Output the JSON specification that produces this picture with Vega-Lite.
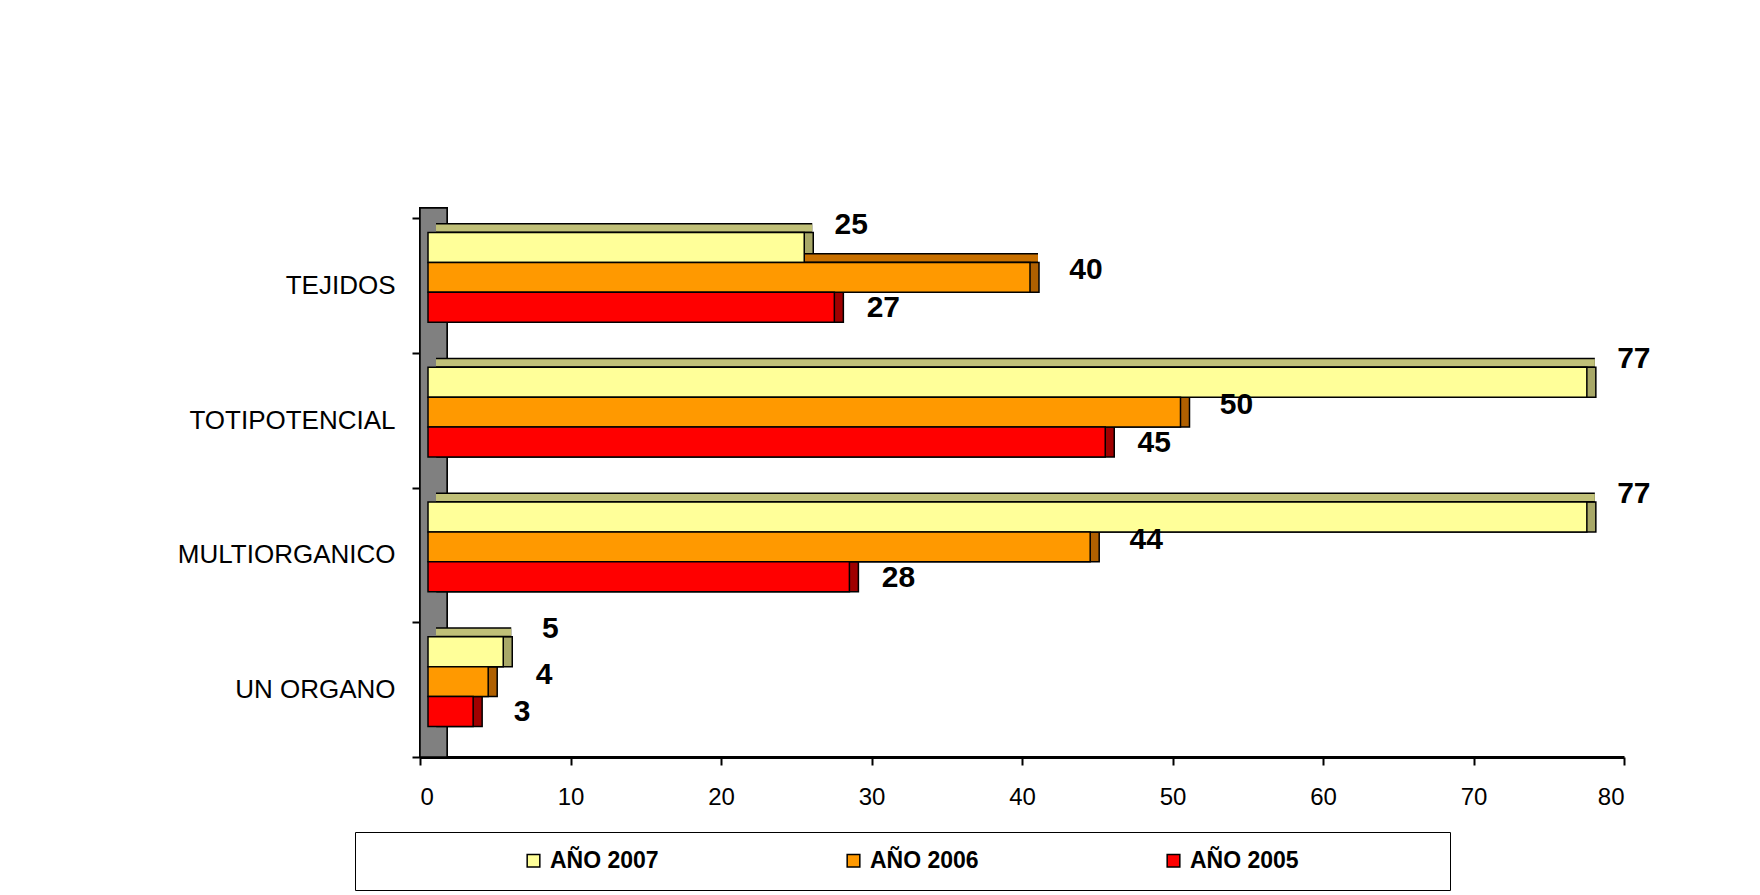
{
  "$schema": "https://vega.github.io/schema/vega-lite/v6.json",
  "autosize": "none",
  "padding": {"left": 420, "top": 218, "right": 136, "bottom": 138},
  "width": 1204,
  "height": 539,
  "background": "white",
  "config": {"view": {"stroke": null}, "font": "Liberation Sans"},
  "data": {
    "values": [
      {"cat": "TEJIDOS", "year": "AÑO 2007", "v": 25},
      {"cat": "TEJIDOS", "year": "AÑO 2006", "v": 40},
      {"cat": "TEJIDOS", "year": "AÑO 2005", "v": 27},
      {"cat": "TOTIPOTENCIAL", "year": "AÑO 2007", "v": 77},
      {"cat": "TOTIPOTENCIAL", "year": "AÑO 2006", "v": 50},
      {"cat": "TOTIPOTENCIAL", "year": "AÑO 2005", "v": 45},
      {"cat": "MULTIORGANICO", "year": "AÑO 2007", "v": 77},
      {"cat": "MULTIORGANICO", "year": "AÑO 2006", "v": 44},
      {"cat": "MULTIORGANICO", "year": "AÑO 2005", "v": 28},
      {"cat": "UN ORGANO", "year": "AÑO 2007", "v": 5},
      {"cat": "UN ORGANO", "year": "AÑO 2006", "v": 4},
      {"cat": "UN ORGANO", "year": "AÑO 2005", "v": 3}
    ]
  },
  "encoding": {
    "y": {"field": "cat", "type": "nominal", "sort": ["TEJIDOS", "TOTIPOTENCIAL", "MULTIORGANICO", "UN ORGANO"], "scale": {"paddingInner": 0, "paddingOuter": 0},
      "axis": {"title": null, "labelFontSize": 26, "labelColor": "black", "labelLimit": 400, "labelPadding": 17, "tickSize": 8, "tickColor": "black", "tickWidth": 2, "tickBand": "extent", "domainColor": "black", "domainWidth": 2, "grid": false}},
    "yOffset": {"field": "year", "type": "nominal", "sort": ["AÑO 2007", "AÑO 2006", "AÑO 2005"], "scale": {"domain": ["AÑO 2007", "AÑO 2006", "AÑO 2005"], "paddingInner": 0, "paddingOuter": 0.756, "align": 0.323}},
    "x": {"field": "v", "type": "quantitative", "scale": {"domain": [0, 80], "nice": false},
      "axis": {"title": null, "values": [0, 10, 20, 30, 40, 50, 60, 70, 80], "labelFontSize": 24, "labelColor": "black", "labelPadding": 20, "tickSize": 8, "tickColor": "black", "tickWidth": 2, "domainColor": "black", "domainWidth": 3, "grid": false}}
  },
  "layer": [
    {
      "mark": {"type": "rect", "fill": "#808080", "stroke": "black", "strokeWidth": 1.5, "yOffset": -10},
      "encoding": {
        "y": null, "yOffset": null,
        "x": {"datum": 0, "type": "quantitative"},
        "x2": {"datum": 1.8}
      }
    },
    {
      "transform": [{"filter": "datum.year == 'AÑO 2007'"}],
      "mark": {"type": "bar", "xOffset": 17, "x2Offset": 17, "fill": "#A8A868", "stroke": "black", "strokeWidth": 1.5}
    },
    {
      "transform": [{"filter": "datum.year == 'AÑO 2006'"}],
      "mark": {"type": "bar", "xOffset": 17, "x2Offset": 17, "fill": "#B06000", "stroke": "black", "strokeWidth": 1.5}
    },
    {
      "transform": [{"filter": "datum.year == 'AÑO 2005'"}],
      "mark": {"type": "bar", "xOffset": 17, "x2Offset": 17, "fill": "#A00000", "stroke": "black", "strokeWidth": 1.5}
    },
    {
      "transform": [{"filter": "datum.year == 'AÑO 2007'"}],
      "mark": {"type": "rule", "xOffset": 16, "x2Offset": 16, "yOffset": -57.4, "stroke": "black", "strokeWidth": 10},
      "encoding": {"yOffset": null, "x2": {"datum": 0}}
    },
    {
      "transform": [{"filter": "datum.year == 'AÑO 2007'"}],
      "mark": {"type": "rule", "xOffset": 16, "x2Offset": 16, "yOffset": -57.4, "stroke": "#C0C078", "strokeWidth": 7},
      "encoding": {"yOffset": null, "x2": {"datum": 0}}
    },
    {
      "transform": [{"filter": "datum.year == 'AÑO 2006'"}],
      "mark": {"type": "rule", "xOffset": 16, "x2Offset": 16, "yOffset": -27.5, "stroke": "black", "strokeWidth": 10},
      "encoding": {"yOffset": null, "x2": {"datum": 0}}
    },
    {
      "transform": [{"filter": "datum.year == 'AÑO 2006'"}],
      "mark": {"type": "rule", "xOffset": 16, "x2Offset": 16, "yOffset": -27.5, "stroke": "#C87000", "strokeWidth": 7},
      "encoding": {"yOffset": null, "x2": {"datum": 0}}
    },
    {
      "mark": {"type": "bar", "xOffset": 8, "x2Offset": 8, "stroke": "black", "strokeWidth": 1.5},
      "encoding": {
        "color": {"field": "year", "type": "nominal", "scale": {"domain": ["AÑO 2007", "AÑO 2006", "AÑO 2005"], "range": ["#FFFF99", "#FF9900", "#FF0000"]},
          "legend": {"title": null, "orient": "none", "legendX": -65, "legendY": 614, "direction": "horizontal", "columns": 3, "symbolType": "square", "symbolSize": 160, "symbolStrokeColor": "black", "symbolStrokeWidth": 1.5, "symbolOffset": 150, "labelOffset": 5, "labelFontSize": 23, "labelFontWeight": "bold", "labelColor": "black", "labelLimit": 500, "labelExpr": "datum.label == 'AÑO 2005' ? datum.label + '\u00a0\u00a0\u00a0\u00a0\u00a0\u00a0\u00a0\u00a0\u00a0\u00a0\u00a0\u00a0\u00a0\u00a0\u00a0\u00a0\u00a0\u00a0\u00a0\u00a0\u00a0\u200b' : datum.label", "columnPadding": 33, "padding": 17, "strokeColor": "black", "fillColor": "white"}}
      }
    },
    {
      "transform": [{"filter": "datum.year == 'AÑO 2007'"}],
      "mark": {"type": "text", "fontSize": 30, "fontWeight": "bold", "color": "black", "dx": 55, "dy": -23, "baseline": "middle", "align": "center"},
      "encoding": {"text": {"field": "v", "type": "quantitative"}}
    },
    {
      "transform": [{"filter": "datum.year == 'AÑO 2006'"}],
      "mark": {"type": "text", "fontSize": 30, "fontWeight": "bold", "color": "black", "dx": 64, "dy": -7, "baseline": "middle", "align": "center"},
      "encoding": {"text": {"field": "v", "type": "quantitative"}}
    },
    {
      "transform": [{"filter": "datum.year == 'AÑO 2005'"}],
      "mark": {"type": "text", "fontSize": 30, "fontWeight": "bold", "color": "black", "dx": 57, "dy": 1, "baseline": "middle", "align": "center"},
      "encoding": {"text": {"field": "v", "type": "quantitative"}}
    }
  ]
}
